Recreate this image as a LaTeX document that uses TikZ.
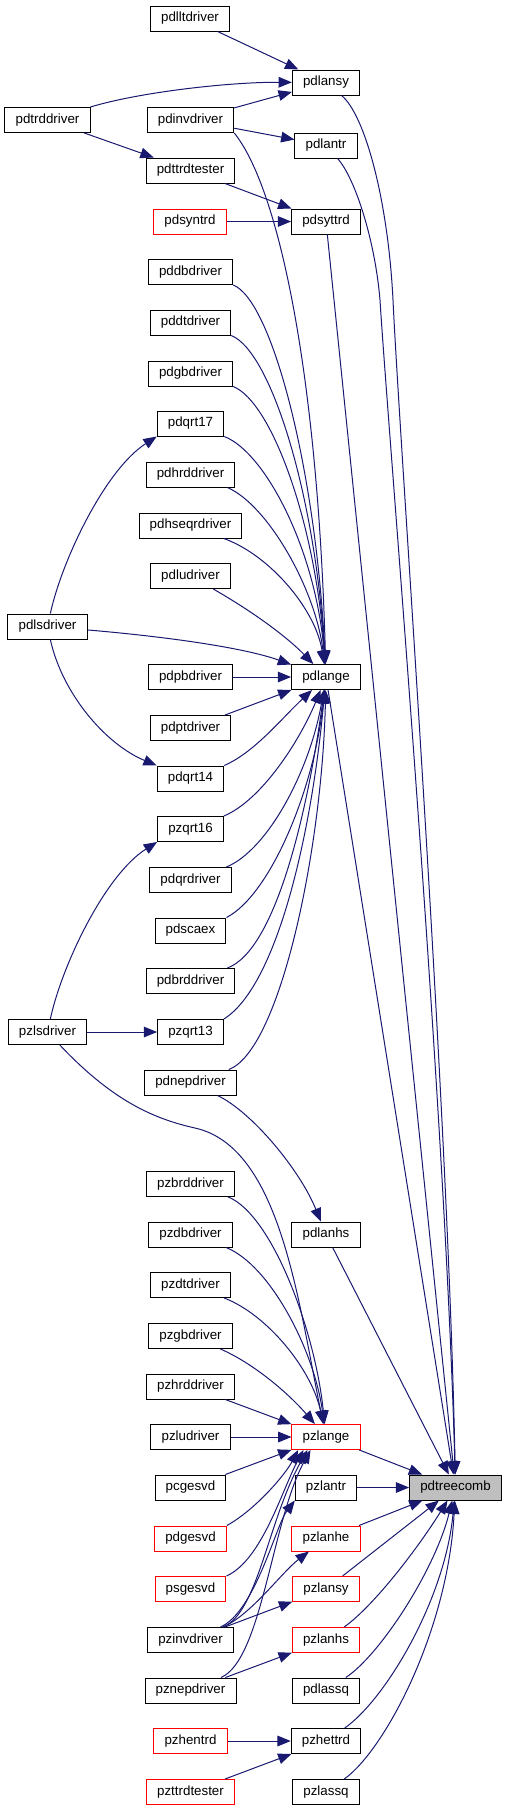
\documentclass[tikz,border=0pt]{standalone}
\usepackage{xcolor}
\usepackage{fontspec}
\setmainfont{Liberation Sans}
\usepackage{tikz}
\usetikzlibrary{arrows.meta}
\definecolor{edgeblue}{HTML}{191970}
\definecolor{rootgrey}{HTML}{BFBFBF}
\tikzset{every node/.append style={align=center}}

\begin{document}
\begin{tikzpicture}[x=0.75pt, y=-0.75pt, font=\fontsize{10}{12}\selectfont,
    fn/.style={rectangle, draw=black, line width=0.75pt, fill=white, inner xsep=8pt, inner ysep=0pt, minimum height=18.75pt},
    tr/.style={fn, draw=red},
    rt/.style={fn, fill=rootgrey},
    a/.style={-{Triangle[length=10pt, width=8pt]}, line width=0.75pt, edgeblue}]
\useasboundingbox (0,0) rectangle (507,1811);
\node[fn] (pdtrddriver) at (47.5,120) {pdtrddriver};
\node[fn] (pdlsdriver) at (47.5,626.5) {pdlsdriver};
\node[fn] (pzlsdriver) at (47.5,1032) {pzlsdriver};
\node[fn] (pdlltdriver) at (190,18.5) {pdlltdriver};
\node[fn] (pdinvdriver) at (190.5,120) {pdinvdriver};
\node[fn] (pdttrdtester) at (190.5,170.5) {pdttrdtester};
\node[tr] (pdsyntrd) at (190,221.5) {pdsyntrd};
\node[fn] (pddbdriver) at (190.5,272) {pddbdriver};
\node[fn] (pddtdriver) at (190.5,322.5) {pddtdriver};
\node[fn] (pdgbdriver) at (190.5,373.5) {pdgbdriver};
\node[fn] (pdqrt17) at (190.5,423.5) {pdqrt17};
\node[fn] (pdhrddriver) at (190.5,474.5) {pdhrddriver};
\node[fn] (pdhseqrdriver) at (190.5,525.5) {pdhseqrdriver};
\node[fn] (pdludriver) at (190.5,576) {pdludriver};
\node[fn] (pdpbdriver) at (190.5,677) {pdpbdriver};
\node[fn] (pdptdriver) at (190.5,728) {pdptdriver};
\node[fn] (pdqrt14) at (190.5,778.5) {pdqrt14};
\node[fn] (pzqrt16) at (190.5,829) {pzqrt16};
\node[fn] (pdqrdriver) at (190.5,880) {pdqrdriver};
\node[fn] (pdscaex) at (190.5,930.5) {pdscaex};
\node[fn] (pdbrddriver) at (190.5,981) {pdbrddriver};
\node[fn] (pzqrt13) at (190.5,1032) {pzqrt13};
\node[fn] (pdnepdriver) at (190.5,1082.5) {pdnepdriver};
\node[fn] (pzbrddriver) at (190.5,1184) {pzbrddriver};
\node[fn] (pzdbdriver) at (190.5,1234.5) {pzdbdriver};
\node[fn] (pzdtdriver) at (190.5,1285) {pzdtdriver};
\node[fn] (pzgbdriver) at (190.5,1336) {pzgbdriver};
\node[fn] (pzhrddriver) at (190.5,1386.5) {pzhrddriver};
\node[fn] (pzludriver) at (190.5,1437) {pzludriver};
\node[fn] (pcgesvd) at (190.5,1487.5) {pcgesvd};
\node[tr] (pdgesvd) at (190.5,1538.5) {pdgesvd};
\node[tr] (psgesvd) at (190.5,1589) {psgesvd};
\node[fn] (pzinvdriver) at (190.5,1640) {pzinvdriver};
\node[fn] (pznepdriver) at (190.5,1690.5) {pznepdriver};
\node[tr] (pzhentrd) at (190.5,1741) {pzhentrd};
\node[tr] (pzttrdtester) at (190.5,1792) {pzttrdtester};
\node[fn] (pdlansy) at (326,82.5) {pdlansy};
\node[fn] (pdlantr) at (326,145.5) {pdlantr};
\node[fn] (pdsyttrd) at (326,221.5) {pdsyttrd};
\node[fn] (pdlange) at (326,677) {pdlange};
\node[fn] (pdlanhs) at (326,1234.5) {pdlanhs};
\node[tr] (pzlange) at (326,1437) {pzlange};
\node[fn] (pzlantr) at (326,1487.5) {pzlantr};
\node[tr] (pzlanhe) at (326,1538.5) {pzlanhe};
\node[tr] (pzlansy) at (326,1589) {pzlansy};
\node[tr] (pzlanhs) at (326,1640) {pzlanhs};
\node[fn] (pdlassq) at (326,1690.5) {pdlassq};
\node[fn] (pzhettrd) at (326,1741) {pzhettrd};
\node[fn] (pzlassq) at (326,1792) {pzlassq};
\node[rt] (pdtreecomb) at (455.5,1487.5) {pdtreecomb};
\draw[a] (pdlltdriver) -- (pdlansy);
\draw[a] (pdtrddriver) .. controls (140,92) and (230,82) .. (pdlansy);
\draw[a] (pdinvdriver) -- (pdlansy);
\draw[a] (pdinvdriver) -- (pdlantr);
\draw[a] (pdinvdriver.south east) .. controls (280,190) and (318,380) .. (pdlange);
\draw[a] (pdtrddriver) -- (pdttrdtester);
\draw[a] (pdttrdtester) -- (pdsyttrd);
\draw[a] (pdsyntrd) -- (pdsyttrd);
\draw[a] (pddbdriver.south east) .. controls (272,300) and (316,470) .. (pdlange);
\draw[a] (pddtdriver.south east) .. controls (272,352) and (316,500) .. (pdlange);
\draw[a] (pdgbdriver.south east) .. controls (272,402) and (316,525) .. (pdlange);
\draw[a] (pdqrt17.south east) .. controls (265,452) and (316,550) .. (pdlange);
\draw[a] ([xshift=-6pt]pdhrddriver.south east) .. controls (268,505) and (316,590) .. (pdlange);
\draw[a] ([xshift=-14pt]pdhseqrdriver.south east) .. controls (270,555) and (316,610) .. (pdlange);
\draw[a] (pdludriver) .. controls (250,610) and (285,635) .. (pdlange);
\draw[a] (pdlsdriver) .. controls (62,560) and (105,470) .. (pdqrt17.south west);
\draw[a] (pdlsdriver) .. controls (170,637) and (245,648) .. (pdlange);
\draw[a] (pdlsdriver) .. controls (62,693) and (105,744) .. (pdqrt14.north west);
\draw[a] (pdpbdriver) -- (pdlange);
\draw[a] (pdptdriver) -- (pdlange);
\draw[a] (pdqrt14.north east) .. controls (255,752) and (282,718) .. (pdlange);
\draw[a] (pzqrt16.north east) .. controls (262,800) and (300,740) .. (pdlange);
\draw[a] ([xshift=-4pt]pdqrdriver.north east) .. controls (268,850) and (310,770) .. (pdlange);
\draw[a] (pdscaex.north east) .. controls (270,895) and (314,790) .. (pdlange);
\draw[a] ([xshift=-6pt]pdbrddriver.north east) .. controls (276,950) and (308,810) .. (pdlange);
\draw[a] (pzqrt13.north east) .. controls (278,985) and (312,830) .. (pdlange);
\draw[a] ([xshift=-6pt]pdnepdriver.north east) .. controls (280,1050) and (322,850) .. (pdlange);
\draw[a] (pzlsdriver) .. controls (62,965) and (105,875) .. (pzqrt16.south west);
\draw[a] (pzlsdriver) -- (pzqrt13);
\draw[a] (pzlsdriver) .. controls (110,1098) and (150,1118) .. (195,1128) .. controls (280,1147) and (298,1300) .. (pzlange);
\draw[a] (pdnepdriver) .. controls (252,1112) and (300,1170) .. (pdlanhs);
\draw[a] ([xshift=-5pt]pzbrddriver.south east) .. controls (272,1215) and (315,1330) .. (pzlange);
\draw[a] ([xshift=-5pt]pzdbdriver.south east) .. controls (270,1265) and (314,1350) .. (pzlange);
\draw[a] ([xshift=-5pt]pzdtdriver.south east) .. controls (268,1315) and (312,1370) .. (pzlange);
\draw[a] (pzgbdriver) .. controls (255,1364) and (290,1395) .. (pzlange);
\draw[a] (pzhrddriver) -- (pzlange);
\draw[a] (pzludriver) -- (pzlange);
\draw[a] (pcgesvd) -- (pzlange);
\draw[a] (pdgesvd.north east) .. controls (255,1510) and (285,1475) .. (pzlange.205);
\draw[a] (psgesvd.north east) .. controls (262,1560) and (282,1490) .. (pzlange.210);
\draw[a] (pzinvdriver) .. controls (258,1613) and (268,1520) .. (pzlange.215);
\draw[a] (pznepdriver) .. controls (262,1660) and (272,1520) .. (pzlange.220);
\draw[a] (pzinvdriver) .. controls (255,1612) and (276,1525) .. (pzlantr.south west);
\draw[a] (pzinvdriver) .. controls (250,1616) and (282,1572) .. (pzlanhe);
\draw[a] (pzinvdriver) -- (pzlansy);
\draw[a] (pznepdriver) -- (pzlanhs);
\draw[a] (pzhentrd) -- (pzhettrd);
\draw[a] (pzttrdtester) -- (pzhettrd);
\draw[a] (pdlansy) .. controls (365,115) and (388,200) .. (393,300) .. controls (400,450) and (448,1100) .. (pdtreecomb);
\draw[a] (pdlantr) .. controls (355,178) and (375,240) .. (380,300) .. controls (388,430) and (445,1100) .. (pdtreecomb);
\draw[a] (pdsyttrd) -- (pdtreecomb);
\draw[a] (pdlange) -- (pdtreecomb);
\draw[a] (pdlanhs) -- (pdtreecomb);
\draw[a] (pzlange) -- (pdtreecomb);
\draw[a] (pzlantr) -- (pdtreecomb);
\draw[a] (pzlanhe) -- (pdtreecomb);
\draw[a] (pzlansy) -- (pdtreecomb);
\draw[a] (pzlanhs) .. controls (375,1605) and (420,1545) .. (pdtreecomb);
\draw[a] (pdlassq) .. controls (380,1655) and (435,1570) .. (pdtreecomb);
\draw[a] (pzhettrd) .. controls (385,1700) and (445,1600) .. (pdtreecomb);
\draw[a] (pzlassq) .. controls (385,1750) and (448,1630) .. (pdtreecomb);
\end{tikzpicture}
\end{document}
